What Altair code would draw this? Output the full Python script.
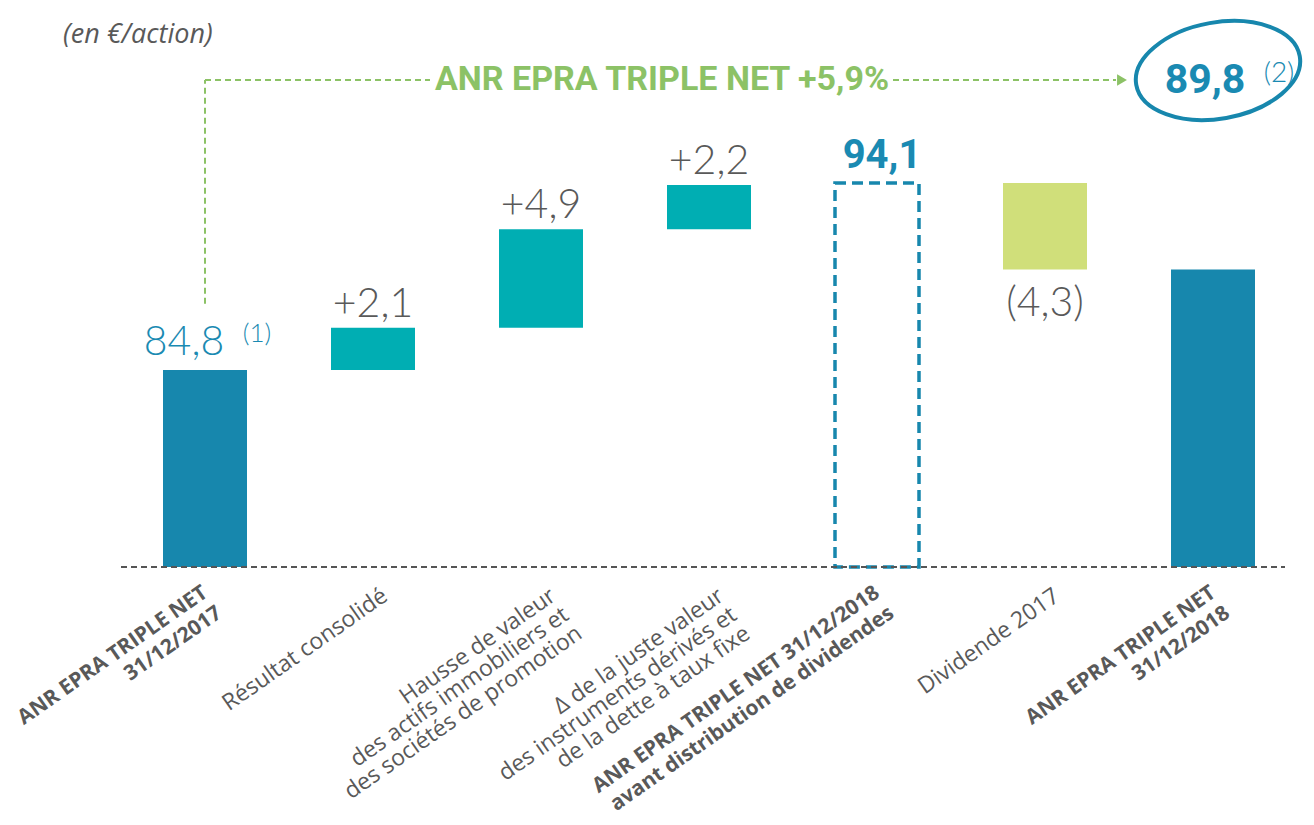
import altair as alt
import pandas as pd

# ---------------- data ----------------
categories = [
    "ANR EPRA TRIPLE NET\n31/12/2017",
    "Résultat consolidé",
    "Hausse de valeur\ndes actifs immobiliers et\ndes sociétés de promotion",
    "Δ de la juste valeur\ndes instruments dérivés et\nde la dette à taux fixe",
    "ANR EPRA TRIPLE NET 31/12/2018\navant distribution de dividendes",
    "Dividende 2017",
    "ANR EPRA TRIPLE NET\n31/12/2018",
]
amounts = [84.8, 2.1, 4.9, 2.2, 94.1, -4.3, 89.8]
kinds = ["total", "delta", "delta", "delta", "subtotal", "dividend", "total"]
value_labels = ["84,8", "+2,1", "+4,9", "+2,2", "94,1", "(4,3)", "89,8"]
footnotes = ["(1)", "", "", "", "", "", "(2)"]
title_text = "ANR EPRA TRIPLE NET +5,9%"
unit_text = "(en €/action)"
axis_floor = 75.0

# ---------------- waterfall table ----------------
starts, ends = [], []
running = 0.0
for a, k in zip(amounts, kinds):
    if k in ("total", "subtotal"):
        starts.append(axis_floor)
        ends.append(a)
        running = a
    else:
        starts.append(running)
        running = round(running + a, 1)
        ends.append(running)

df = pd.DataFrame({
    "category": categories,
    "kind": kinds,
    "start": starts,
    "end": ends,
    "label": value_labels,
    "note": footnotes,
    "idx": list(range(len(categories))),
})
df["top"] = df[["start", "end"]].max(axis=1)
df["bottom"] = df[["start", "end"]].min(axis=1)
df["bold"] = df["kind"].isin(["total", "subtotal"]).astype(int)

one = pd.DataFrame({"title": [title_text], "unit": [unit_text]})

BLUE = "#1787ad"
TEAL = "#00aeb3"
LIME = "#d0df7a"
GREEN = "#8cc266"
GREY = "#595959"
TXTBLUE = "#1a8ab2"
LAST = len(categories) - 1
ARROW_Y = 99.23
ARROW_FOOT = 88.1
RING_Y = 99.7

xscale = alt.Scale(domain=categories, paddingInner=0.5, paddingOuter=0.25)
yscale = alt.Scale(domain=[axis_floor, 95], nice=False, zero=False)

base = alt.Chart(df).encode(
    x=alt.X("category:N", scale=xscale, axis=None)
)

bars = base.transform_filter(alt.datum.kind != "subtotal").mark_bar().encode(
    y=alt.Y("start:Q", scale=yscale, axis=None),
    y2="end:Q",
    color=alt.Color("kind:N", scale=alt.Scale(domain=["total", "delta", "dividend"],
                                              range=[BLUE, TEAL, LIME]), legend=None),
)

subtotal = base.transform_filter(alt.datum.kind == "subtotal").mark_bar(
    fillOpacity=0, stroke=BLUE, strokeWidth=3.5, strokeDash=[11, 6]
).encode(y="start:Q", y2="end:Q")

baseline = alt.Chart(one).mark_rule(color="#555555", strokeWidth=2, strokeDash=[6, 4]).encode(
    x=alt.value(0), x2=alt.value(1164), y=alt.value(402)
)

# value labels
lbl_first = base.transform_filter(alt.datum.idx == 0).mark_text(
    font="Lato", fontWeight=300, fontSize=41, color=TXTBLUE, align="center",
    baseline="alphabetic", dx=-21, dy=-15
).encode(y="end:Q", text="label:N")

note_first = base.transform_filter(alt.datum.idx == 0).mark_text(
    font="Lato", fontWeight=300, fontSize=26, color=TXTBLUE, align="center",
    baseline="alphabetic", dx=52, dy=-28
).encode(y="end:Q", text="note:N")

lbl_delta = base.transform_filter(alt.datum.kind == "delta").mark_text(
    font="Lato", fontWeight=300, fontSize=41, color=GREY, align="center",
    baseline="alphabetic", dy=-11
).encode(y="top:Q", text="label:N")

lbl_sub = base.transform_filter(alt.datum.kind == "subtotal").mark_text(
    font="Roboto", fontWeight="bold", fontSize=40, color=TXTBLUE,
    align="center", baseline="alphabetic", dx=5, dy=-15
).encode(y="top:Q", text="label:N")

lbl_div = base.transform_filter(alt.datum.kind == "dividend").mark_text(
    font="Lato", fontWeight=300, fontSize=41, color=GREY, align="center",
    baseline="top", dy=14
).encode(y="bottom:Q", text="label:N")

# category labels (rotated)
cat_norm = base.transform_filter(alt.datum.bold == 0).mark_text(
    font="Open Sans", fontSize=23, color=GREY, angle=325, align="right",
    baseline="top", lineBreak="\n", lineHeight=23, dx=5, dy=3
).encode(y=alt.value(420), text="category:N")

cat_bold = base.transform_filter(alt.datum.bold == 1).mark_text(
    font="Open Sans", fontWeight="bold", fontSize=21, color=GREY, angle=325, align="right",
    baseline="top", lineBreak="\n", lineHeight=25, dx=-3, dy=-6
).encode(y=alt.value(420), text="category:N")

# annotation: arrow + title + callout
dash = dict(color=GREEN, strokeWidth=2, strokeDash=[6, 4])
first = base.transform_filter(alt.datum.idx == 0).transform_calculate(
    foot=str(ARROW_FOOT), head=str(ARROW_Y)
)
arrow_v = first.mark_rule(**dash).encode(y="foot:Q", y2="head:Q")
arrow_h1 = first.mark_rule(**dash).encode(x2=alt.value(309), y="head:Q")

ann = alt.Chart(one).transform_calculate(head=str(ARROW_Y), ring=str(RING_Y))
arrow_h2 = ann.mark_rule(**dash).encode(x=alt.value(772), x2=alt.value(995), y="head:Q")
arrow_head = ann.mark_point(
    shape="triangle-right", filled=True, size=130, color=GREEN, opacity=1
).encode(x=alt.value(1001), y="head:Q")

title = ann.mark_text(
    font="Roboto", fontWeight="bold", fontSize=34, color=GREEN,
    align="center", baseline="middle"
).encode(x=alt.value(541), y="head:Q", text="title:N")

unit = alt.Chart(one).mark_text(
    font="Open Sans", fontStyle="italic", fontSize=27, color=GREY,
    align="left", baseline="middle"
).encode(x=alt.value(-58), y=alt.value(-130), text="unit:N")

last = base.transform_filter(alt.datum.idx == LAST).transform_calculate(head=str(ARROW_Y))
final_lbl = last.mark_text(
    font="Roboto", fontWeight="bold", fontSize=41, color=TXTBLUE,
    align="center", baseline="alphabetic", dx=-8, dy=13
).encode(y="head:Q", text="label:N")

final_note = last.mark_text(
    font="Lato", fontWeight=300, fontSize=28, color=TXTBLUE, align="center",
    baseline="alphabetic", dx=66, dy=2
).encode(y="head:Q", text="note:N")

ellipse_path = ("M -1 0 C -1 -0.32 -0.552 -0.58 0 -0.58 C 0.552 -0.58 1 -0.32 1 0 "
                "C 1 0.32 0.552 0.58 0 0.58 C -0.552 0.58 -1 0.32 -1 0 Z")
ellipse = ann.mark_point(shape=ellipse_path, size=166 ** 2, filled=False,
                         stroke=BLUE, strokeWidth=4, opacity=1, angle=350).encode(
    x=alt.value(1097), y="ring:Q"
)

chart = alt.layer(
    bars, subtotal, baseline,
    lbl_first, note_first, lbl_delta, lbl_sub, lbl_div,
    cat_norm, cat_bold,
    arrow_v, arrow_h1, arrow_h2, arrow_head, title, unit,
    final_lbl, final_note, ellipse,
).properties(
    width=1176, height=402,
    padding={"left": 113, "top": 157, "right": 8, "bottom": 253},
    autosize=alt.AutoSizeParams(type="none"),
).configure_view(stroke=None)

chart.save("out.html", embed_options={"renderer": "svg", "actions": False})
